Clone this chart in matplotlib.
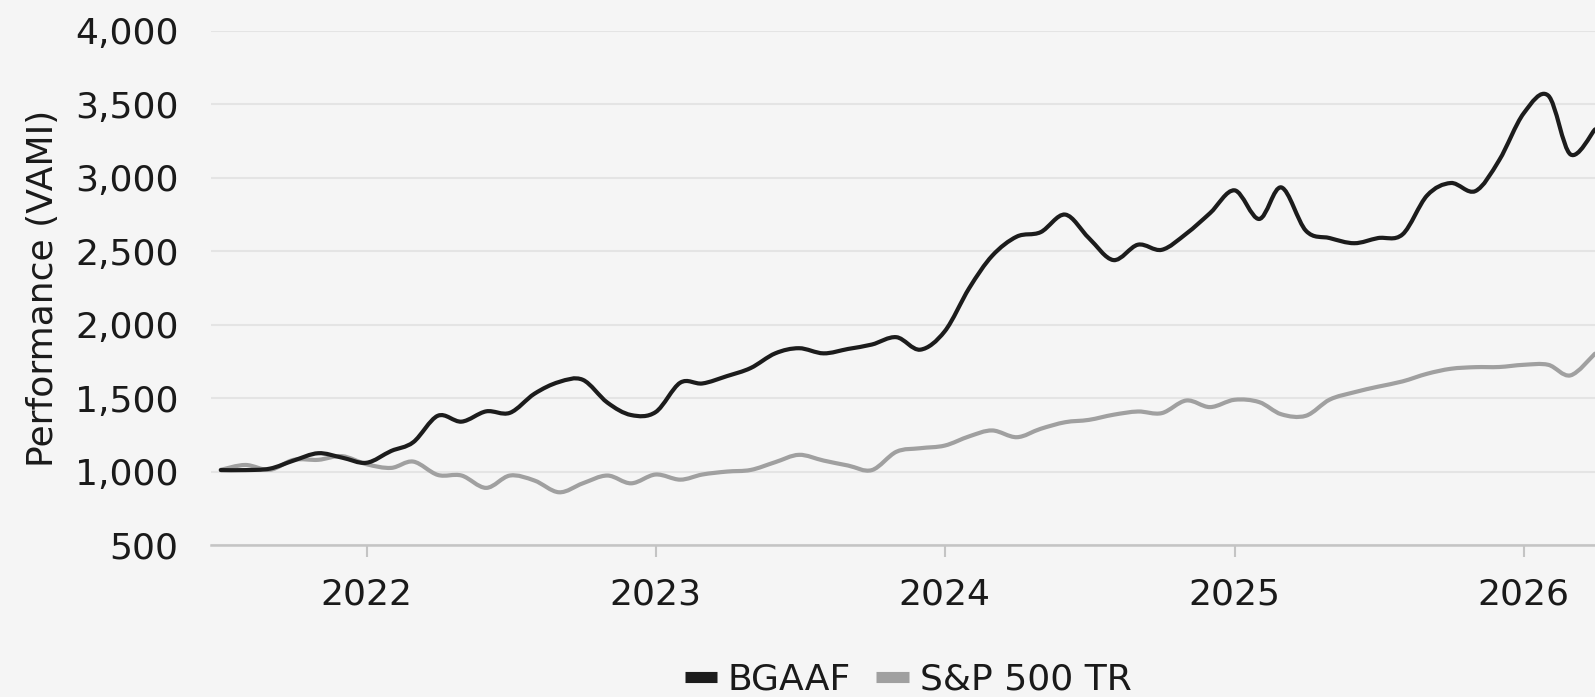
import matplotlib
matplotlib.use("Agg")
import matplotlib.pyplot as plt
import matplotlib.ticker as mticker
import matplotlib.dates as mdates
from matplotlib.path import Path
from matplotlib.patches import PathPatch
from matplotlib.lines import Line2D
import numpy as np
import pandas as pd

# Monthly observations, Jul 2021 .. Apr 2026
start_month = "2021-07-01"
bgaaf = [1010, 1010, 1020, 1075, 1125, 1095, 1060, 1140, 1200, 1380,
         1340, 1410, 1400, 1530, 1610, 1625, 1470, 1385, 1405, 1605,
         1600, 1650, 1705, 1805, 1840, 1805, 1835, 1865, 1915, 1830,
         1955, 2250, 2470, 2600, 2630, 2750, 2590, 2440, 2545, 2510,
         2620, 2760, 2915, 2720, 2935, 2640, 2590, 2555, 2590, 2615,
         2880, 2965, 2910, 3120, 3440, 3560, 3160, 3330]
sp500 = [1012, 1045, 1012, 1080, 1080, 1105, 1050, 1025, 1068, 977,
         973, 889, 973, 939, 859, 920, 973, 920, 980, 945,
         980, 1000, 1011, 1064, 1114, 1075, 1041, 1010, 1135, 1159,
         1177, 1240, 1280, 1234, 1291, 1336, 1352, 1387, 1409, 1398,
         1484, 1439, 1489, 1473, 1390, 1380, 1490, 1540, 1578, 1614,
         1666, 1700, 1711, 1712, 1727, 1727, 1655, 1803]
series_names = ["BGAAF", "S&P 500 TR"]
series_colors = ["#1c1c1c", "#a0a0a0"]
y_ticks = [500, 1000, 1500, 2000, 2500, 3000, 3500, 4000]
x_tick_years = ["2022", "2023", "2024", "2025", "2026"]

dates = pd.date_range(start_month, periods=len(bgaaf), freq="MS")

FONT = ["DejaVu Sans Condensed", "DejaVu Sans"]
plt.rcParams["font.family"] = FONT
BG = "#f5f5f5"

fig = plt.figure(figsize=(15.95, 6.97), dpi=100, facecolor=BG)
ax = fig.add_axes([210.5 / 1595, 1 - 545 / 697, 1 - 210.5 / 1595, (545 - 31) / 697])
ax.set_facecolor(BG)


def spline_path(xs, ys, smooth=1.0 / 6):
    """Smooth (spline-style) path through the data points, in data coords."""
    xs = np.asarray(xs, float)
    ys = np.asarray(ys, float)
    verts = [(xs[0], ys[0])]
    codes = [Path.MOVETO]
    n = len(xs)
    for i in range(n - 1):
        p0 = (xs[max(i - 1, 0)], ys[max(i - 1, 0)])
        p1 = (xs[i], ys[i])
        p2 = (xs[i + 1], ys[i + 1])
        p3 = (xs[min(i + 2, n - 1)], ys[min(i + 2, n - 1)])
        c1 = (p1[0] + (p2[0] - p0[0]) * smooth, p1[1] + (p2[1] - p0[1]) * smooth)
        c2 = (p2[0] - (p3[0] - p1[0]) * smooth, p2[1] - (p3[1] - p1[1]) * smooth)
        verts += [c1, c2, p2]
        codes += [Path.CURVE4] * 3
    return Path(verts, codes)


xnum = mdates.date2num(dates)
ax.xaxis_date()
for vals, col, name, z in [(sp500, series_colors[1], series_names[1], 3),
                           (bgaaf, series_colors[0], series_names[0], 4)]:
    patch = PathPatch(spline_path(xnum, vals), facecolor="none", edgecolor=col,
                      lw=3.0, joinstyle="round", capstyle="round", zorder=z)
    ax.add_patch(patch)

ax.set_ylim(500, 4000)
ax.set_yticks(y_ticks)
ax.yaxis.set_major_formatter(mticker.FuncFormatter(lambda v, p: f"{int(v):,}"))
ax.set_xlim(pd.Timestamp("2021-06-18"), pd.Timestamp("2026-04-01"))
ax.set_xticks([pd.Timestamp(f"{y}-01-01") for y in x_tick_years])
ax.set_xticklabels(x_tick_years)

ax.grid(axis="y", color="#e4e4e4", lw=1.5, zorder=0)
ax.set_axisbelow(True)
for s in ["top", "right", "left"]:
    ax.spines[s].set_visible(False)
ax.spines["bottom"].set_color("#c4c4c4")
ax.spines["bottom"].set_linewidth(1.8)
ax.spines["bottom"].set_zorder(5)

ax.tick_params(axis="y", length=0, pad=23, labelsize=26, labelcolor="#1a1a1a")
ax.tick_params(axis="x", length=8.5, width=1.5, color="#c4c4c4", pad=15,
               labelsize=26, labelcolor="#1a1a1a")
ax.set_ylabel("Performance (VAMI)", fontsize=26, color="#1a1a1a", labelpad=11)

handles = [Line2D([], [], color=series_colors[0], lw=8, solid_capstyle="butt"),
           Line2D([], [], color=series_colors[1], lw=8, solid_capstyle="butt")]
leg = fig.legend(handles, series_names, loc="center",
                 bbox_to_anchor=(908 / 1595, 1 - 680 / 697), ncol=2,
                 frameon=False, fontsize=26, handlelength=0.9, handletextpad=0.3,
                 columnspacing=0.7, borderaxespad=0)
for t in leg.get_texts():
    t.set_color("#1a1a1a")

fig.savefig("out.png", dpi=100, facecolor=BG)
